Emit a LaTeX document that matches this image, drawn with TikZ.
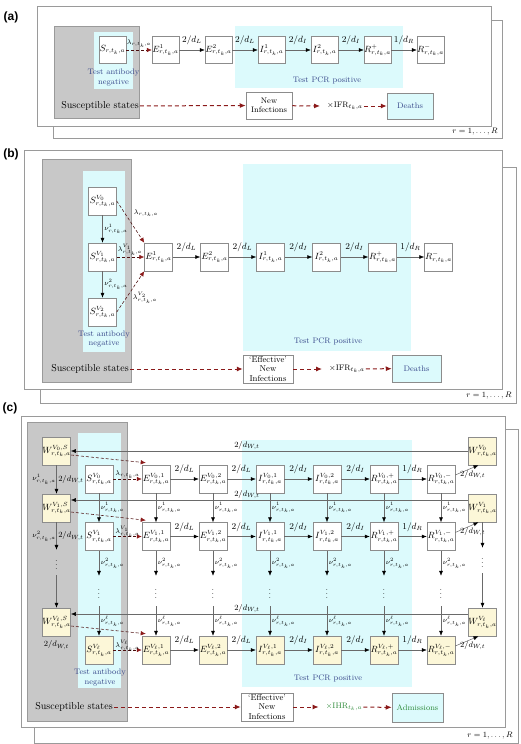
\documentclass[tikz,border=0pt]{standalone}
\usepackage{fontspec}
\newfontfamily\lblfont{Liberation Sans}
\usetikzlibrary{arrows.meta,calc,positioning}
\definecolor{gbox}{HTML}{C8C8C8}
\definecolor{gedge}{HTML}{9A9A9A}
\definecolor{cyn}{HTML}{DCFAFC}
\definecolor{ylw}{HTML}{FCF7D8}
\definecolor{dred}{HTML}{8B1A1A}
\definecolor{tblue}{HTML}{3A4A8C}
\definecolor{tgreen}{HTML}{2E8B3A}
\definecolor{lgray}{HTML}{8C8C8C}
\definecolor{cgray}{HTML}{6A6A6A}
\tikzset{
 frm/.style={draw=gedge, fill=white, line width=0.6pt},
 gry/.style={draw=gedge, fill=gbox, line width=0.6pt},
 bx/.style={draw=lgray, fill=white, line width=0.5pt, minimum width=27pt, minimum height=27pt, inner sep=0pt, font=\small},
 bxb/.style={bx, minimum width=28pt, minimum height=28pt},
 arr/.style={draw=cgray, line width=0.5pt, -{Latex[length=5pt,width=4pt,color=black]}},
 rdash/.style={draw=dred!55!black, line width=0.55pt, dash pattern=on 3pt off 2pt, -{Latex[length=5pt,width=4.5pt,color=dred]}},
 rthick/.style={draw=dred, line width=1pt, dash pattern=on 4pt off 3pt, -{Latex[length=6pt,width=5pt]}},
 lab/.style={font=\small, inner sep=1pt},
 nlab/.style={font=\scriptsize, inner sep=0.5pt},
 wlab/.style={font=\footnotesize, inner sep=0.5pt},
 blu/.style={text=tblue, font=\footnotesize, align=center},
 plabel/.style={font=\fontsize{12}{14}\selectfont\lblfont\bfseries},
 rlab/.style={font=\footnotesize},
 dts/.style={inner sep=0pt, minimum height=30pt, font=\small},
 dtw/.style={inner sep=0pt, minimum height=25pt, font=\small},
 sst/.style={inner sep=1pt, font=\normalsize}
}
\begin{document}
\begin{tikzpicture}[x=1pt,y=-1pt]
\useasboundingbox (0,0) rectangle (520,744);

%%%%%%%%%%%%%%%% (a)
\node[plabel] (pa) at (11,17) {(a)};
\draw[frm] (53,20) rectangle (502,138);
\draw[frm] (37,6) rectangle (491,126);
\node[rlab, anchor=east] (ra) at (501,132) {$r=1,\dots,R$};
\draw[gry] (54,26) rectangle (139,118);
\fill[cyn] (94,32) rectangle (133,89);
\fill[cyn] (235,26) rectangle (403,88);
\node[blu] (aTA) at (113.5,77.5) {Test antibody\\negative};
\node[blu] (aTP) at (327,80) {Test PCR positive};
\node[bx] (aS) at (112.5,50) {$S_{r,t_k,a}$};
\node[bx] (aE1) at (165.5,50) {$E^1_{r,t_k,a}$};
\node[bx] (aE2) at (218.5,50) {$E^2_{r,t_k,a}$};
\node[bx] (aI1) at (271.5,50) {$I^1_{r,t_k,a}$};
\node[bx] (aI2) at (324.5,50) {$I^2_{r,t_k,a}$};
\node[bx] (aRp) at (377.5,50) {$R^+_{r,t_k,a}$};
\node[bx] (aRm) at (430.5,50) {$R^-_{r,t_k,a}$};
\draw[rdash] (aS) -- node[nlab, above=2pt]{$\lambda_{r,t_k,a}$} (aE1);
\draw[arr] (aE1) -- node[lab, above=4pt]{$2/d_L$} (aE2);
\draw[arr] (aE2) -- node[lab, above=4pt]{$2/d_L$} (aI1);
\draw[arr] (aI1) -- node[lab, above=4pt]{$2/d_I$} (aI2);
\draw[arr] (aI2) -- node[lab, above=4pt]{$2/d_I$} (aRp);
\draw[arr] (aRp) -- node[lab, above=4pt]{$1/d_R$} (aRm);
\node[sst] (aSS) at (100,106) {Susceptible states};
\node[bx, minimum width=46pt, font=\footnotesize, align=center] (aNI) at (269,105.5) {New\\Infections};
\node[font=\footnotesize, inner sep=1pt] (aIFR) at (345,106) {$\times\mathrm{IFR}_{t_k,a}$};
\node[bx, fill=cyn, minimum width=46pt, minimum height=26pt, font=\footnotesize, text=tblue] (aD) at (410,106) {Deaths};
\draw[rthick] (aSS) -- (aNI);
\draw[rthick] (aNI) -- ($(aIFR.west)+(-6,0)$);
\draw[rthick] (aIFR) -- (aD);

%%%%%%%%%%%%%%%% (b)
\node[plabel] (pb) at (11,154) {(b)};
\draw[frm] (40,167) rectangle (516,403);
\draw[frm] (24,150) rectangle (502,389);
\node[rlab, anchor=east] (rb) at (515,396) {$r=1,\dots,R$};
\draw[gry] (42,159) rectangle (131,382);
\fill[cyn] (83,171) rectangle (125,352);
\fill[cyn] (243,164) rectangle (411,351);
\node[blu] (bTA) at (104,339) {Test antibody\\negative};
\node[blu] (bTP) at (328,341) {Test PCR positive};
\node[bxb] (bS0) at (102.5,201) {$S^{V_0}_{r,t_k,a}$};
\node[bxb] (bS1) at (102.5,257) {$S^{V_1}_{r,t_k,a}$};
\node[bxb] (bS2) at (102.5,312) {$S^{V_2}_{r,t_k,a}$};
\node[bxb] (bE1) at (158.5,257) {$E^1_{r,t_k,a}$};
\node[bxb] (bE2) at (214.5,257) {$E^2_{r,t_k,a}$};
\node[bxb] (bI1) at (270.5,257) {$I^1_{r,t_k,a}$};
\node[bxb] (bI2) at (326.5,257) {$I^2_{r,t_k,a}$};
\node[bxb] (bRp) at (382.5,257) {$R^+_{r,t_k,a}$};
\node[bxb] (bRm) at (438.5,257) {$R^-_{r,t_k,a}$};
\draw[arr] (bS0) -- node[nlab, right=1pt]{$\nu^1_{r,t_k,a}$} (bS1);
\draw[arr] (bS1) -- node[nlab, right=1pt]{$\nu^2_{r,t_k,a}$} (bS2);
\draw[rdash] (bS0.east) -- (bE1.north west);
\draw[rdash] (bS1) -- (bE1);
\draw[rdash] (bS2.east) -- (bE1.south west);
\node[nlab] (bl0) at (146,213) {$\lambda_{r,t_k,a}$};
\node[nlab] (bl1) at (130,250) {$\lambda^{V_1}_{r,t_k,a}$};
\node[nlab] (bl2) at (145,298) {$\lambda^{V_2}_{r,t_k,a}$};
\draw[arr] (bE1) -- node[lab, above=4pt]{$2/d_L$} (bE2);
\draw[arr] (bE2) -- node[lab, above=4pt]{$2/d_L$} (bI1);
\draw[arr] (bI1) -- node[lab, above=4pt]{$2/d_I$} (bI2);
\draw[arr] (bI2) -- node[lab, above=4pt]{$2/d_I$} (bRp);
\draw[arr] (bRp) -- node[lab, above=4pt]{$1/d_R$} (bRm);
\node[sst] (bSS) at (90,369) {Susceptible states};
\node[bx, minimum width=50pt, minimum height=28pt, font=\fontsize{8.5}{9.2}\selectfont, align=center] (bNI) at (268,369) {`Effective'\\New\\Infections};
\node[font=\footnotesize, inner sep=1pt] (bIFR) at (347,369) {$\times\mathrm{IFR}_{t_k,a}$};
\node[bx, fill=cyn, minimum width=49pt, minimum height=27pt, font=\footnotesize, text=tblue] (bD) at (416.5,368.5) {Deaths};
\draw[rthick] (bSS) -- (bNI);
\draw[rthick] (bNI) -- ($(bIFR.west)+(-6,0)$);
\draw[rthick] (bIFR) -- (bD);

%%%%%%%%%%%%%%%% (c)
\node[plabel] (pc) at (10,408) {(c)};
\draw[frm] (34,429) rectangle (518,743);
\draw[frm] (21,416) rectangle (505,727);
\node[rlab, anchor=east] (rc) at (516,736) {$r=1,\dots,R$};
\draw[gry] (27,422) rectangle (127,721);
\fill[cyn] (78,433) rectangle (121,688);
\fill[cyn] (242,440) rectangle (412,687);
\node[blu] (cTA) at (100,677.5) {Test antibody\\negative};
\node[blu] (cTP) at (328,678) {Test PCR positive};

% W states
\node[bxb, fill=ylw] (cW0) at (56.5,451) {$W^{V_0,S}_{r,t_k,a}$};
\node[bxb, fill=ylw] (cW1) at (56.5,508) {$W^{V_1,S}_{r,t_k,a}$};
\node[bxb, fill=ylw] (cWL) at (56.5,622) {$W^{V_\ell,S}_{r,t_k,a}$};
\node[bxb, fill=ylw] (cV0) at (482.5,451) {$W^{V_0}_{r,t_k,a}$};
\node[bxb, fill=ylw] (cV1) at (482.5,508) {$W^{V_1}_{r,t_k,a}$};
\node[bxb, fill=ylw] (cVL) at (482.5,622) {$W^{V_\ell}_{r,t_k,a}$};
\node[dtw] (cdW) at (56.5,562.5) {$\vdots$};
\node[dtw] (cdV) at (482.5,560.5) {$\vdots$};

% waning return lines
\draw[arr] (cV0.west) -- node[wlab, pos=0.557, above=0.5pt]{$2/d_{W,t}$} (cW0.east);
\draw[arr] ($(cV1.west)+(0,-8)$) -- node[wlab, pos=0.557, above=0.5pt]{$2/d_{W,t}$} ($(cW1.east)+(0,-8)$);
\draw[arr] ($(cVL.west)+(0,-8)$) -- node[wlab, pos=0.557, above=0.5pt]{$2/d_{W,t}$} ($(cWL.east)+(0,-8)$);

% main grid
\foreach \r/\y/\v/\fc in {0/479/V_0/white,1/536.5/V_1/white,L/650/V_\ell/ylw}{
  \node[bxb, fill=\fc] (cS\r) at (99,\y) {$S^{\v}_{r,t_k,a}$};
  \node[bxb, fill=\fc] (cEa\r) at (156,\y) {$E^{\v,1}_{r,t_k,a}$};
  \node[bxb, fill=\fc] (cEb\r) at (213,\y) {$E^{\v,2}_{r,t_k,a}$};
  \node[bxb, fill=\fc] (cIa\r) at (270,\y) {$I^{\v,1}_{r,t_k,a}$};
  \node[bxb, fill=\fc] (cIb\r) at (327,\y) {$I^{\v,2}_{r,t_k,a}$};
  \node[bxb, fill=\fc] (cRp\r) at (384,\y) {$R^{\v,+}_{r,t_k,a}$};
  \node[bxb, fill=\fc] (cRm\r) at (441,\y) {$R^{\v,-}_{r,t_k,a}$};
  \draw[arr] (cEa\r) -- node[lab, above=4pt]{$2/d_L$} (cEb\r);
  \draw[arr] (cEb\r) -- node[lab, above=4pt]{$2/d_L$} (cIa\r);
  \draw[arr] (cIa\r) -- node[lab, above=4pt]{$2/d_I$} (cIb\r);
  \draw[arr] (cIb\r) -- node[lab, above=4pt]{$2/d_I$} (cRp\r);
  \draw[arr] (cRp\r) -- node[lab, above=4pt]{$1/d_R$} (cRm\r);
  \draw[rdash] ($(cW\r.east)+(0,4)$) -- ($(cEa\r.north west)+(4,-2)$);
  \draw[arr] ($(cRm\r.east)+(0,-4)$) -- node[wlab, pos=0.75, below=2pt]{$2/d_{W,t}$} ($(cV\r.south)+(-4,0)$);
}
\draw[rdash] (cS0) -- node[nlab, above=0pt]{$\lambda_{r,t_k,a}$} (cEa0);
\draw[rdash] (cS1) -- node[nlab, above=-2pt]{$\lambda^{V_1}_{r,t_k,a}$} (cEa1);
\draw[rdash] (cSL) -- node[nlab, above=-2pt]{$\lambda^{V_\ell}_{r,t_k,a}$} (cEaL);

\foreach \col/\x in {S/99,Ea/156,Eb/213,Ia/270,Ib/327,Rp/384,Rm/441}{
  \node[dts] (cd\col) at (\x,591) {$\vdots$};
  \draw[arr] (c\col 0) -- node[nlab, right=1pt]{$\nu^1_{r,t_k,a}$} (c\col 1);
  \draw[arr] (c\col 1) -- node[nlab, right=1pt]{$\nu^2_{r,t_k,a}$} (cd\col);
  \draw[arr] (cd\col) -- node[nlab, right=1pt]{$\nu^\ell_{r,t_k,a}$} (c\col L);
}
% W columns
\draw[arr] (cW0) -- node[nlab, left=0pt]{$\nu^1_{r,t_k,a}$} node[wlab, right=1pt]{$2/d_{W,t}$} (cW1);
\draw[arr] (cW1) -- node[nlab, left=0pt]{$\nu^2_{r,t_k,a}$} node[wlab, right=1pt]{$2/d_{W,t}$} (cdW);
\draw[arr] (cdW) -- (cWL);
\node[wlab, below=4pt] (cWLl) at (cWL.south) {$2/d_{W,t}$};
\draw[arr] (cV1) -- (cdV);
\draw[arr] (cdV) -- (cVL);

% bottom row
\node[sst] (cSS) at (74,707) {Susceptible states};
\node[bx, minimum width=52pt, minimum height=28pt, font=\fontsize{8.5}{9.2}\selectfont, align=center] (cNI) at (267,707) {`Effective'\\New\\Infections};
\node[font=\footnotesize, inner sep=1pt, text=tgreen] (cIHR) at (344,707) {$\times\mathrm{IHR}_{t_k,a}$};
\node[bx, fill=cyn, minimum width=51pt, minimum height=29pt, font=\footnotesize, text=tgreen] (cA) at (417.5,707.5) {Admissions};
\draw[rthick] (cSS) -- (cNI);
\draw[rthick] (cNI) -- ($(cIHR.west)+(-6,0)$);
\draw[rthick] (cIHR) -- (cA);
\end{tikzpicture}
\end{document}
